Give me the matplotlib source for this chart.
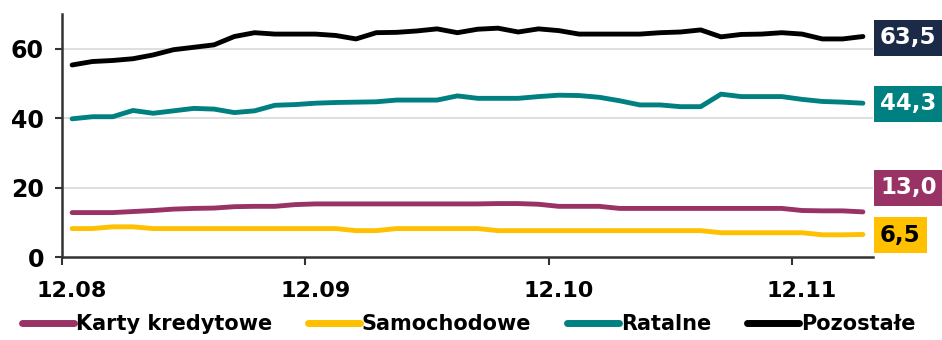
import numpy as np
import matplotlib
matplotlib.use('Agg')
import matplotlib.pyplot as plt

# monthly data, 12.08 .. 03.12 (40 months)
x_labels = ['12.08', '12.09', '12.10', '12.11']
x_label_pos = [0, 12, 24, 36]

karty = [12.8, 12.8, 12.8, 13.1, 13.4, 13.8, 14.0, 14.1, 14.5, 14.6,
         14.6, 15.1, 15.3, 15.3, 15.3, 15.3, 15.3, 15.3, 15.3, 15.3,
         15.3, 15.4, 15.4, 15.2, 14.6, 14.6, 14.6, 14.0, 14.0, 14.0,
         14.0, 14.0, 14.0, 14.0, 14.0, 14.0, 13.4, 13.3, 13.3, 13.0]
samochodowe = [8.2, 8.2, 8.7, 8.7, 8.2, 8.2, 8.2, 8.2, 8.2, 8.2,
               8.2, 8.2, 8.2, 8.2, 7.6, 7.6, 8.2, 8.2, 8.2, 8.2,
               8.2, 7.6, 7.6, 7.6, 7.6, 7.6, 7.6, 7.6, 7.6, 7.6,
               7.6, 7.6, 7.0, 7.0, 7.0, 7.0, 7.0, 6.4, 6.4, 6.5]
ratalne = [39.8, 40.4, 40.4, 42.2, 41.4, 42.1, 42.8, 42.6, 41.6, 42.1,
           43.7, 43.9, 44.3, 44.5, 44.6, 44.7, 45.2, 45.2, 45.2, 46.4,
           45.7, 45.7, 45.7, 46.2, 46.6, 46.5, 46.0, 45.0, 43.8, 43.8,
           43.3, 43.3, 46.9, 46.2, 46.2, 46.2, 45.4, 44.8, 44.6, 44.3]
pozostale = [55.3, 56.3, 56.6, 57.1, 58.2, 59.7, 60.4, 61.1, 63.5, 64.6,
             64.2, 64.2, 64.2, 63.8, 62.8, 64.6, 64.7, 65.1, 65.7, 64.6,
             65.6, 65.9, 64.8, 65.7, 65.2, 64.2, 64.2, 64.2, 64.2, 64.6,
             64.8, 65.4, 63.4, 64.1, 64.2, 64.6, 64.2, 62.8, 62.8, 63.5]

series = [
    ('Karty kredytowe', karty, '#993366', '13,0', 19.9, 'white'),
    ('Samochodowe', samochodowe, '#FFC000', '6,5', 6.3, 'black'),
    ('Ratalne', ratalne, '#008080', '44,3', 44.1, 'white'),
    ('Pozostałe', pozostale, '#000000', '63,5', 63.1, 'white'),
]
box_col = {'63,5': '#1B2A47'}

plt.rcParams['font.family'] = 'DejaVu Sans'
plt.rcParams['font.weight'] = 'bold'

fig = plt.figure(figsize=(9.42, 3.4), dpi=100)
ax = fig.add_axes([0.0658, 0.244, 0.861, 0.715])

x = np.arange(len(karty))
for name, vals, col, lab, ly, tc in series:
    ax.plot(x, vals, color=col, lw=3.5, label=name, solid_capstyle='round')
    ax.annotate(lab, xy=(1.0, ly), xycoords=('axes fraction', 'data'),
                xytext=(5, 0), textcoords='offset points', va='center', ha='left',
                fontsize=16.5, fontweight='bold', color=tc,
                bbox=dict(boxstyle='square,pad=0.28', fc=box_col.get(lab, col), ec='none'))

ax.set_xlim(-0.5, len(karty) - 0.5)
ax.set_ylim(0, 70)
ax.set_yticks([0, 20, 40, 60])
for y in [20, 40, 60]:
    ax.axhline(y, color='#D9D9D9', lw=1.2, zorder=0)

ax.set_xticks(x_label_pos)
ax.set_xticklabels(x_labels)
ax.set_xticks([-0.5, 11.5, 23.5, 35.5], minor=True)
ax.tick_params(axis='x', which='major', length=0, pad=17, labelsize=16)
ax.tick_params(axis='x', which='minor', length=6, width=1.5, color='#333333')
ax.tick_params(axis='y', length=5, width=1.5, color='#333333', labelsize=17, pad=8)

for s in ['top', 'right']:
    ax.spines[s].set_visible(False)
for s in ['left', 'bottom']:
    ax.spines[s].set_color('#333333')
    ax.spines[s].set_linewidth(1.8)

leg = fig.legend(loc='lower left', bbox_to_anchor=(0.010, -0.02), ncol=4, frameon=False,
                 fontsize=15, handlelength=2.5, handletextpad=0.1, columnspacing=1.7,
                 borderaxespad=0.2)
for h in leg.get_lines():
    h.set_linewidth(5)
    h.set_solid_capstyle('round')

fig.savefig('out.png', dpi=100)
